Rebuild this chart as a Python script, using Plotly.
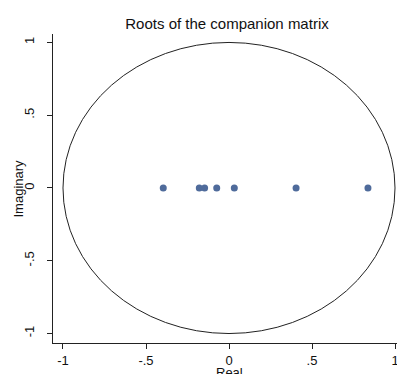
import plotly.graph_objects as go

# Data: roots of the companion matrix (real, imaginary)
real_parts = [-0.396, -0.179, -0.147, -0.074, 0.032, 0.404, 0.837]
imag_parts = [0, 0, 0, 0, 0, 0, 0]

tick_vals = [-1, -0.5, 0, 0.5, 1]
tick_text = ["-1", "-.5", "0", ".5", "1"]

W, H = 397, 374
L, R, T, B = 53, 0, 34, 31

fig = go.Figure()
fig.add_trace(go.Scatter(
    x=real_parts, y=imag_parts, mode="markers",
    marker=dict(color="#4f6b9b", size=7, line=dict(width=0)),
    showlegend=False, cliponaxis=False, hoverinfo="skip",
))

# unit circle
fig.add_shape(type="circle", xref="x", yref="y", x0=-1, x1=1, y0=-1, y1=1,
              line=dict(color="#222222", width=1), layer="below")

font = dict(family="Liberation Sans, Arial, sans-serif", color="#111111")

fig.update_layout(
    width=W, height=H,
    margin=dict(l=L, r=R, t=T, b=B, autoexpand=False),
    paper_bgcolor="white", plot_bgcolor="white",
    font=dict(size=13, **font),
    title=dict(text="Roots of the companion matrix", x=(227 - L) / (W - L - R), xref="paper",
               y=1 - 24 / H, yref="container", xanchor="center", yanchor="middle",
               font=dict(size=15, **font)),
    xaxis=dict(range=[-1.0602, 1.012], tickvals=tick_vals, ticktext=tick_text, automargin=False,
               ticklabeloverflow="allow",
               showgrid=False, zeroline=False, showline=True, linecolor="#222222", linewidth=1,
               ticks="outside", ticklen=5, tickcolor="#222222", tickfont=dict(size=13, **font)),
    yaxis=dict(range=[-1.065, 1.058], tickvals=tick_vals, ticktext=tick_text, tickangle=-90,
               automargin=False, ticklabelstandoff=8,
               showgrid=False, zeroline=False, showline=True, linecolor="#222222", linewidth=1,
               ticks="outside", ticklen=5, tickcolor="#222222", tickfont=dict(size=13, **font)),
    annotations=[
        dict(text="Imaginary", xref="paper", yref="paper", x=0, y=0.5, xshift=-(L - 18),
             textangle=-90, showarrow=False, xanchor="center", yanchor="middle",
             font=dict(size=13, **font)),
        dict(text="Real", xref="paper", yref="paper", x=(229 - L) / (W - L - R), y=0,
             yshift=-29, showarrow=False, xanchor="center", yanchor="middle",
             font=dict(size=13, **font)),
    ],
)

fig.write_html("out.html", config={"displayModeBar": False},
               post_script="document.body.style.margin='0';document.body.style.overflow='hidden';")
